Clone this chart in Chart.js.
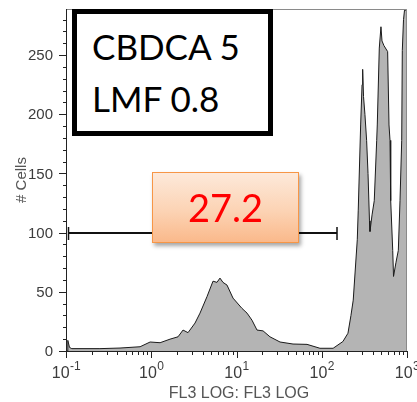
<!DOCTYPE html>
<html lang="en">
<head>
  <meta charset="UTF-8" />
  <title>FL3 histogram</title>
  <script src="https://cdn.jsdelivr.net/npm/chart.js"></script>
<style>
  * {
    margin: 0;
    padding: 0;
    box-sizing: border-box;
  }

  body {
    background: #ffffff;
    width: 417px;
    height: 402px;
    overflow: hidden;
  }

  .wrap {
    position: relative;
    width: 417px;
    height: 402px;
  }

  .sample {
    position: absolute;
    left: 72px;
    top: 9px;
    width: 201px;
    height: 127px;
    border: 5px solid #000000;
    background: #ffffff;
    padding: 6px 0 0 15px;
    font-family: 'Lato', sans-serif;
    font-size: 35px;
    line-height: 52px;
    color: #000000;
  }

  .gate-value {
    position: absolute;
    left: 152px;
    top: 172px;
    width: 147px;
    height: 71px;
    border: 1.5px solid #f79646;
    background: linear-gradient(to bottom, #fde9da 0%, #fcd3b4 55%, #fab98b 100%);
    box-shadow: 2px 3px 4px rgba(0, 0, 0, 0.35);
    text-align: center;
    font-family: 'Lato', sans-serif;
    font-size: 38px;
    line-height: 68px;
    color: #ff0000;
  }
</style>
</head>
<body>
  <div class="wrap">
    <canvas id="histChart" width="417" height="402"></canvas>
    <div class="sample">CBDCA 5<br>LMF 0.8</div>
    <div class="gate-value">27.2</div>
  </div>

<script>
  // FL3 channel (log) and cell counts per bin
  const fl3 = [
    0.103, 0.105, 0.110, 0.117, 0.25, 0.43, 0.74, 0.97, 1.27, 1.66,
    2.06, 2.36, 2.70, 3.26, 3.73, 4.51, 5.30, 5.90, 6.40, 6.94,
    7.74, 9.10, 11.6, 13.3, 15.2, 17.4, 20.5, 24.7, 32.4, 46.0,
    67.2, 95.3, 136, 177, 203, 220, 234, 261, 268, 286,
    297, 302, 309, 321, 336, 349, 363, 368, 389, 413,
    441, 448, 473, 495, 509, 537, 593, 615, 632, 644,
    680, 695, 743, 791, 828, 867, 881, 910, 935, 1000
  ];
  const cells = [
    0, 9, 3, 2, 2, 2.5, 3.6, 7.6, 7, 10,
    12, 17.7, 15.5, 23.6, 32, 46, 59, 58, 61.6, 58,
    55.7, 44.7, 36, 32, 26, 17.7, 17, 12, 7.6, 5.9,
    5.6, 2.3, 2.3, 8, 15, 30, 43, 94, 119, 191,
    225, 238, 215, 200, 178, 150, 110, 101, 115, 127,
    178, 191, 256, 274, 262, 258, 253, 191, 178, 127,
    85, 63, 75, 85, 127, 178, 254, 280, 288, 288
  ];

  // axis ticks
  const yTicks = [0, 50, 100, 150, 200, 250];
  const yMinorStep = 10;
  const decades = [-1, 0, 1, 2, 3];

  // marker gate over the histogram
  const gateRange = [0.107, 151];
  const gateLevel = 100;

  const tickFont = '15px "Liberation Sans", Arial, sans-serif';

  // axes, frame and gate are painted by hand so the log labels get superscripts
  const flowAxes = {
    id: 'flowAxes',
    afterDatasetsDraw(chart) {
      const ctx = chart.ctx;
      const xs = chart.scales.x;
      const ys = chart.scales.y;
      const area = chart.chartArea;
      ctx.save();

      // grey frame top/right
      ctx.strokeStyle = '#8a8a8a';
      ctx.lineWidth = 1;
      ctx.beginPath();
      ctx.moveTo(area.left, area.top + 0.5);
      ctx.lineTo(area.right - 0.5, area.top + 0.5);
      ctx.lineTo(area.right - 0.5, area.bottom);
      ctx.stroke();

      // axis lines
      ctx.strokeStyle = '#222222';
      ctx.beginPath();
      ctx.moveTo(area.left + 0.5, area.top);
      ctx.lineTo(area.left + 0.5, area.bottom + 0.5);
      ctx.lineTo(area.right, area.bottom + 0.5);
      ctx.stroke();

      // y ticks
      ctx.beginPath();
      for (let v = 0; v <= ys.max; v += yMinorStep) {
        const py = Math.round(ys.getPixelForValue(v)) + 0.5;
        const len = yTicks.includes(v) ? 7 : 3;
        ctx.moveTo(area.left - len, py);
        ctx.lineTo(area.left, py);
      }
      // x ticks, decades and 2..9 in between
      decades.forEach(e => {
        const steps = e < 3 ? [1, 2, 3, 4, 5, 6, 7, 8, 9] : [1];
        steps.forEach(m => {
          const px = Math.round(xs.getPixelForValue(m * Math.pow(10, e))) + 0.5;
          const len = m === 1 ? 7 : 4;
          ctx.moveTo(px, area.bottom);
          ctx.lineTo(px, area.bottom + len);
        });
      });
      ctx.stroke();

      // y labels
      ctx.fillStyle = '#3c3c3c';
      ctx.font = tickFont;
      ctx.textAlign = 'right';
      ctx.textBaseline = 'middle';
      yTicks.forEach(v => {
        ctx.fillText(String(v), area.left - 13, ys.getPixelForValue(v) + 1);
      });

      // x labels 10^n
      ctx.textAlign = 'left';
      ctx.textBaseline = 'alphabetic';
      decades.forEach(e => {
        const px = xs.getPixelForValue(Math.pow(10, e));
        ctx.font = '16px "Liberation Sans", Arial, sans-serif';
        const wBase = ctx.measureText('10').width;
        ctx.font = '12px "Liberation Sans", Arial, sans-serif';
        const wExp = ctx.measureText(String(e)).width;
        const x0 = px - (wBase + wExp) / 2;
        ctx.font = '16px "Liberation Sans", Arial, sans-serif';
        ctx.fillText('10', x0, 378);
        ctx.font = '12px "Liberation Sans", Arial, sans-serif';
        ctx.fillText(String(e), x0 + wBase + 0.5, 370);
      });

      // axis titles
      ctx.fillStyle = '#555555';
      ctx.font = '16px "Liberation Sans", Arial, sans-serif';
      ctx.textAlign = 'center';
      ctx.fillText('FL3 LOG: FL3 LOG', 239, 398);
      ctx.save();
      ctx.translate(26, 180);
      ctx.rotate(-Math.PI / 2);
      ctx.font = '15px "Liberation Sans", Arial, sans-serif';
      ctx.fillText('# Cells', 0, 0);
      ctx.restore();

      // gate bar with end caps
      const gx0 = xs.getPixelForValue(gateRange[0]);
      const gx1 = xs.getPixelForValue(gateRange[1]);
      const gy = Math.round(ys.getPixelForValue(gateLevel));
      ctx.strokeStyle = '#111111';
      ctx.lineWidth = 2;
      ctx.beginPath();
      ctx.moveTo(gx0, gy);
      ctx.lineTo(gx1, gy);
      ctx.stroke();
      ctx.lineWidth = 1.5;
      ctx.beginPath();
      ctx.moveTo(gx0, gy - 6);
      ctx.lineTo(gx0, gy + 7);
      ctx.moveTo(gx1, gy - 6);
      ctx.lineTo(gx1, gy + 7);
      ctx.stroke();

      ctx.restore();
    }
  };

  new Chart(document.getElementById('histChart'), {
    type: 'line',
    data: {
      datasets: [{
        data: fl3.map((x, i) => ({ x, y: cells[i] })),
        borderColor: '#1a1a1a',
        borderWidth: 1,
        backgroundColor: '#b4b4b4',
        fill: 'origin',
        pointRadius: 0,
        tension: 0
      }]
    },
    options: {
      responsive: false,
      animation: false,
      devicePixelRatio: 1,
      layout: { padding: { left: 66, top: 9, right: 10, bottom: 51 } },
      plugins: { legend: { display: false }, tooltip: { enabled: false } },
      scales: {
        x: { type: 'logarithmic', min: 0.1, max: 1000, display: false },
        y: { type: 'linear', min: 0, max: 289, display: false }
      }
    },
    plugins: [flowAxes]
  });
</script>
</body>
</html>
